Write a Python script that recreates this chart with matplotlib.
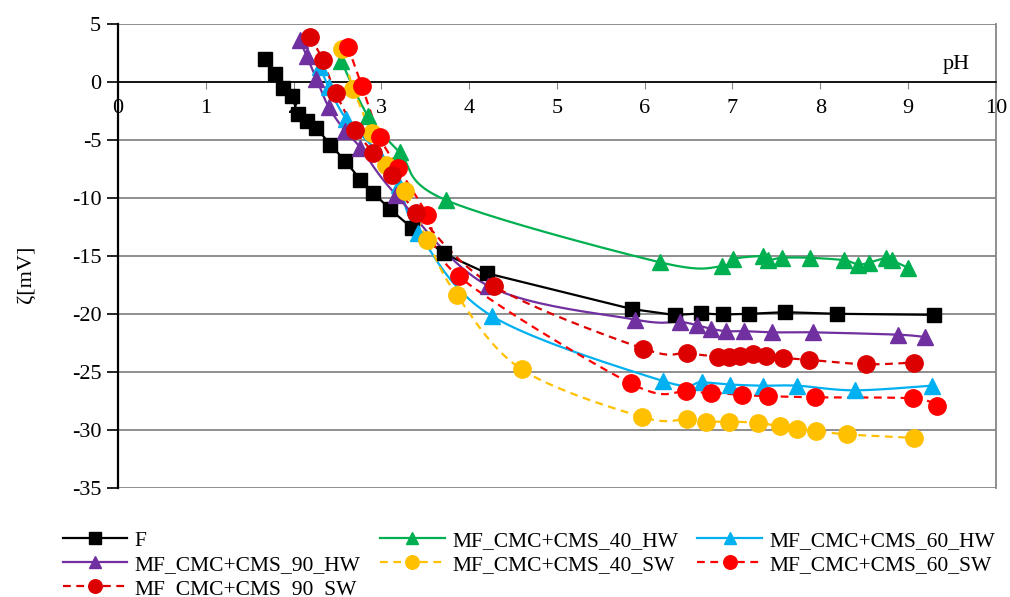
import numpy as np
import matplotlib
matplotlib.use("Agg")
import matplotlib.pyplot as plt
from matplotlib.lines import Line2D

plt.rcParams['font.family'] = ['Liberation Serif', 'DejaVu Serif']
plt.rcParams['axes.unicode_minus'] = False

# pH / zeta potential [mV]
f_ph = [1.68, 1.79, 1.88, 1.98, 2.05, 2.15, 2.26, 2.42, 2.59, 2.76, 2.91, 3.10, 3.35,
        3.71, 4.20, 5.86, 6.34, 6.64, 6.89, 7.19, 7.60, 8.19, 9.30]
f_zeta = [1.98, 0.69, -0.52, -1.24, -2.76, -3.40, -3.97, -5.41, -6.84, -8.42, -9.57, -11.0, -12.6,
          -14.8, -16.5, -19.6, -20.1, -19.97, -20.06, -20.0, -19.86, -20.0, -20.09]

hw40_ph = [2.54, 2.85, 3.21, 3.74, 6.17, 6.88, 7.01, 7.35, 7.41, 7.56, 7.88, 8.27, 8.43, 8.55,
           8.75, 8.82, 9.00]
hw40_zeta = [1.84, -2.97, -6.09, -10.21, -15.55, -15.9, -15.26, -15.03, -15.38, -15.17, -15.17,
             -15.38, -15.75, -15.6, -15.17, -15.4, -16.03]

hw60_ph = [2.30, 2.40, 2.60, 2.95, 3.20, 3.42, 4.26, 6.21, 6.65, 6.97, 7.35, 7.74, 8.39, 9.27]
hw60_zeta = [1.32, -0.45, -3.2, -6.0, -8.9, -13.0, -20.2, -25.8, -25.9, -26.1, -26.2, -26.2,
             -26.6, -26.2]

hw90_ph = [2.07, 2.15, 2.26, 2.40, 2.59, 2.76, 3.17, 4.22, 5.89, 6.40, 6.60, 6.76, 6.93, 7.13,
           7.45, 7.92, 8.88, 9.19]
hw90_zeta = [3.65, 2.21, 0.28, -2.17, -4.26, -5.66, -9.76, -17.6, -20.5, -20.7, -21.0, -21.3,
             -21.5, -21.5, -21.6, -21.6, -21.8, -22.0]

sw40_ph = [2.55, 2.68, 2.89, 3.05, 3.27, 3.52, 3.86, 4.60, 5.97, 6.48, 6.70, 6.96, 7.29, 7.54,
           7.74, 7.95, 8.30, 9.07]
sw40_zeta = [2.83, -0.58, -4.40, -7.13, -9.37, -13.6, -18.4, -24.8, -28.9, -29.1, -29.3, -29.3,
             -29.4, -29.7, -29.9, -30.1, -30.4, -30.7]

sw60_ph = [2.62, 2.78, 2.98, 3.19, 3.52, 3.88, 5.84, 6.47, 6.75, 7.11, 7.41, 7.94, 9.06, 9.33]
sw60_zeta = [3.04, -0.38, -4.72, -7.39, -11.44, -16.76, -26.0, -26.7, -26.8, -27.0, -27.1,
             -27.2, -27.3, -27.97]

sw90_ph = [2.19, 2.33, 2.48, 2.70, 2.91, 3.12, 3.40, 4.28, 5.98, 6.48, 6.83, 6.96, 7.08, 7.23,
           7.38, 7.57, 7.87, 8.52, 9.07]
sw90_zeta = [3.90, 1.92, -0.95, -4.11, -6.12, -8.03, -11.29, -17.6, -23.0, -23.4, -23.7, -23.7,
             -23.65, -23.5, -23.66, -23.8, -23.97, -24.35, -24.2]


def smooth(x, y, n=24):
    # Excel-style smoothed line (Catmull-Rom as cubic Bezier)
    p = np.column_stack([x, y]).astype(float)
    p = np.vstack([p[0], p, p[-1]])
    t = np.linspace(0, 1, n)[:, None]
    segs = []
    for i in range(1, len(p) - 2):
        p0, p1, p2, p3 = p[i - 1], p[i], p[i + 1], p[i + 2]
        c1 = p1 + (p2 - p0) / 6
        c2 = p2 - (p3 - p1) / 6
        segs.append((1 - t) ** 3 * p1 + 3 * (1 - t) ** 2 * t * c1
                    + 3 * (1 - t) * t ** 2 * c2 + t ** 3 * p2)
    s = np.vstack(segs)
    return s[:, 0], s[:, 1]


series = [
    ("F", f_ph, f_zeta, "black", "-", "s", 10.5, False),
    ("MF_CMC+CMS_40_HW", hw40_ph, hw40_zeta, "#00B050", "-", "^", 11.5, True),
    ("MF_CMC+CMS_60_HW", hw60_ph, hw60_zeta, "#00B0F0", "-", "^", 11.5, True),
    ("MF_CMC+CMS_90_HW", hw90_ph, hw90_zeta, "#7030A0", "-", "^", 11.5, True),
    ("MF_CMC+CMS_40_SW", sw40_ph, sw40_zeta, "#FFC000", "--", "o", 12.5, True),
    ("MF_CMC+CMS_60_SW", sw60_ph, sw60_zeta, "#FF0000", "--", "o", 12.5, True),
    ("MF_CMC+CMS_90_SW", sw90_ph, sw90_zeta, "#DC0000", "--", "o", 12.5, True),
]

fig = plt.figure(figsize=(10.1, 5.97), dpi=100)
ax = fig.add_axes([0.1168, 0.183, 0.8692, 0.777])

handles = {}
for name, x, y, col, ls, mk, ms, sm in series:
    lx, ly = smooth(x, y) if sm else (x, y)
    line, = ax.plot(lx, ly, color=col, ls=ls, lw=1.6, zorder=3)
    if ls == "--":
        line.set_dashes((3.5, 2.5))
    ax.plot(x, y, ls="none", marker=mk, ms=ms, color=col, mec=col, zorder=4)
    h = Line2D([], [], color=col, ls=ls, lw=1.6, marker=mk, ms=ms * 0.78, mec=col)
    if ls == "--":
        h.set_dashes((3.5, 2.5))
    handles[name] = h

ax.set_xlim(0, 10)
ax.set_ylim(-35, 5)
ax.set_xticks(np.arange(0, 11, 1))
ax.set_yticks(np.arange(-35, 6, 5))
ax.grid(axis="y", color="#868686", lw=1.3)
ax.set_axisbelow(True)

ax.spines["top"].set_visible(False)
ax.spines["right"].set_color("#868686")
ax.spines["right"].set_linewidth(1.3)
ax.spines["left"].set_linewidth(1.6)
ax.spines["bottom"].set_position(("data", 0))
ax.spines["bottom"].set_linewidth(1.2)
ax.tick_params(axis="x", direction="out", length=5, color="#868686", labelsize=16, pad=7)
ax.tick_params(axis="y", direction="out", length=8, width=1.2, labelsize=16, pad=4)

ax.set_ylabel("ζ[mV]", fontsize=16)
ax.yaxis.set_label_coords(-0.094, 0.46)
ax.text(9.55, 1.5, "pH", fontsize=16, ha="center", va="center")

order = ["F", "MF_CMC+CMS_90_HW", "MF_CMC+CMS_90_SW", "MF_CMC+CMS_40_HW",
         "MF_CMC+CMS_40_SW", "MF_CMC+CMS_60_HW", "MF_CMC+CMS_60_SW"]
fig.legend([handles[k] for k in order], order, ncol=3, loc="upper left",
           bbox_to_anchor=(0.062, 0.111), frameon=False, fontsize=15.5,
           handlelength=3.0, handletextpad=0.35, columnspacing=0.9, labelspacing=0.18,
           borderaxespad=0, borderpad=0)

fig.savefig("out.png", dpi=100)
